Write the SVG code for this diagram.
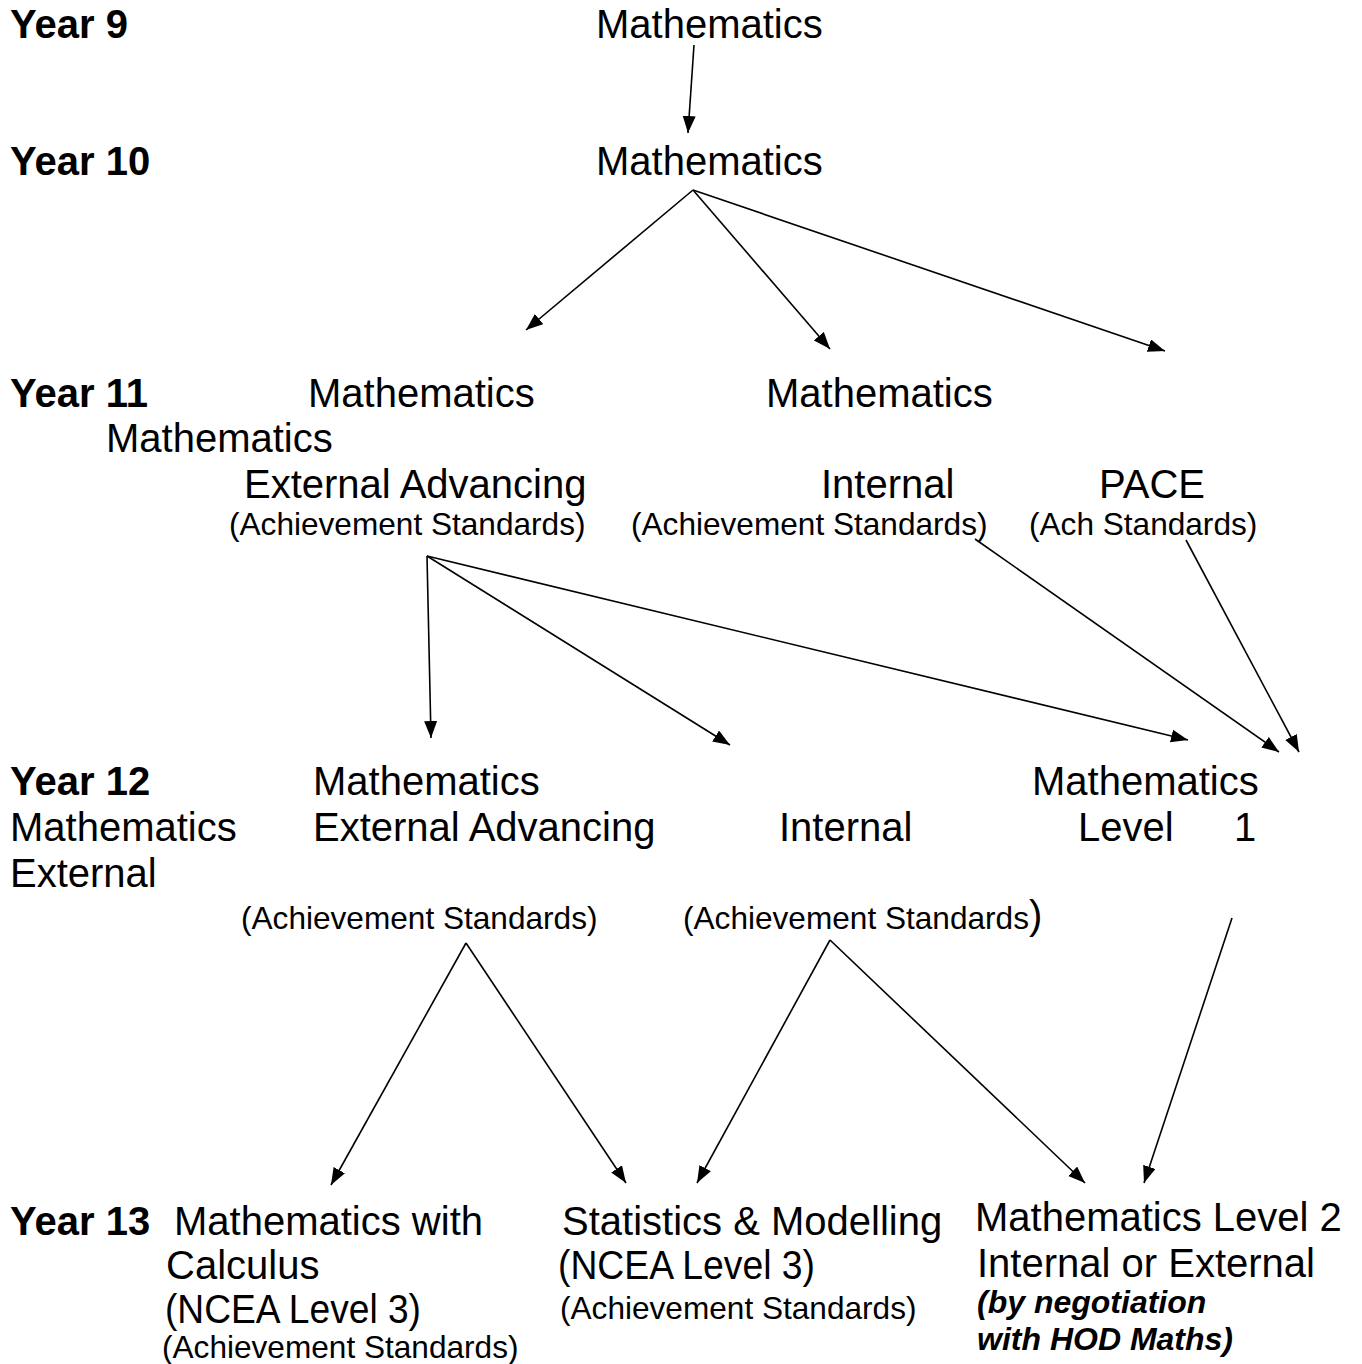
<svg xmlns="http://www.w3.org/2000/svg" width="1362" height="1364" viewBox="0 0 1362 1364">
<defs>
<style>
text{font-family:"Liberation Sans",Arial,sans-serif;fill:#000}
.big{font-size:40px}
.yr{font-size:40px;font-weight:bold}
.sm{font-size:31.6px}
.bi{font-size:32px;font-weight:bold;font-style:italic}
.cn line{stroke:#000;stroke-width:1.6;marker-end:url(#ah)}
</style>
<marker id="ah" markerUnits="userSpaceOnUse" markerWidth="18" markerHeight="14" refX="17" refY="6.5" orient="auto" viewBox="0 0 18 14">
<path d="M0,0 L17,6.5 L0,13 z" fill="#000"/>
</marker>
</defs>
<rect width="1362" height="1364" fill="#fff"/>
<g id="year-labels">
<text class="yr" x="10" y="38">Year 9</text>
<text class="yr" x="10" y="175">Year 10</text>
<text class="yr" x="10" y="407">Year 11</text>
<text class="yr" x="10" y="795">Year 12</text>
<text class="yr" x="10" y="1235">Year 13</text>
</g>
<g id="y9-math"><text class="big" x="596" y="38">Mathematics</text></g>
<g id="y10-math"><text class="big" x="596" y="175">Mathematics</text></g>
<g id="y11-ext">
<text class="big" x="308" y="407">Mathematics</text>
<text class="big" x="244" y="498">External Advancing</text>
<text class="sm" x="229" y="535">(Achievement Standards)</text>
</g>
<g id="y11-mathline2"><text class="big" x="106" y="452">Mathematics</text></g>
<g id="y11-int">
<text class="big" x="766" y="407">Mathematics</text>
<text class="big" x="821" y="498">Internal</text>
<text class="sm" x="631" y="535">(Achievement Standards)</text>
</g>
<g id="y11-pace">
<text class="big" x="1099" y="498">PACE</text>
<text class="sm" x="1029" y="535">(Ach Standards)</text>
</g>
<g id="y12-ext">
<text class="big" x="10" y="841">Mathematics</text>
<text class="big" x="10" y="887">External</text>
</g>
<g id="y12-extadv">
<text class="big" x="313" y="795">Mathematics</text>
<text class="big" x="313" y="841">External Advancing</text>
<text class="sm" x="241" y="929">(Achievement Standards)</text>
</g>
<g id="y12-int">
<text class="big" x="779" y="841">Internal</text>
<text x="683" y="929"><tspan class="sm">(Achievement Standards</tspan><tspan class="big">)</tspan></text>
</g>
<g id="y12-l1">
<text class="big" x="1032" y="795">Mathematics</text>
<text class="big" x="1078" y="841">Level</text>
<text class="big" x="1234" y="841">1</text>
</g>
<g id="y13-calc">
<text class="big" x="174" y="1235">Mathematics with</text>
<text class="big" x="166" y="1279">Calculus</text>
<text class="big" x="165" y="1323" textLength="256" lengthAdjust="spacingAndGlyphs">(NCEA Level 3)</text>
<text class="sm" x="162" y="1358">(Achievement Standards)</text>
</g>
<g id="y13-stats">
<text class="big" x="562" y="1235">Statistics &amp; Modelling</text>
<text class="big" x="558" y="1279" textLength="257" lengthAdjust="spacingAndGlyphs">(NCEA Level 3)</text>
<text class="sm" x="560" y="1319">(Achievement Standards)</text>
</g>
<g id="y13-l2">
<text class="big" x="975" y="1231">Mathematics Level 2</text>
<text class="big" x="977" y="1277">Internal or External</text>
<text class="bi" x="977" y="1313">(by negotiation</text>
<text class="bi" x="977" y="1350">with HOD Maths)</text>
</g>
<g id="connectors" class="cn">
<line x1="694" y1="45" x2="688" y2="133"/>
<line x1="693" y1="190" x2="526" y2="330"/>
<line x1="693" y1="190" x2="830" y2="349"/>
<line x1="693" y1="190" x2="1165" y2="351"/>
<line x1="427" y1="556" x2="431" y2="738"/>
<line x1="427" y1="556" x2="730" y2="745"/>
<line x1="427" y1="556" x2="1188" y2="740"/>
<line x1="975" y1="539" x2="1279" y2="752"/>
<line x1="1186" y1="540" x2="1299" y2="752"/>
<line x1="466" y1="943" x2="331" y2="1185"/>
<line x1="466" y1="943" x2="626" y2="1183"/>
<line x1="830" y1="940" x2="697" y2="1183"/>
<line x1="830" y1="940" x2="1085" y2="1183"/>
<line x1="1232" y1="918" x2="1144" y2="1183"/>
</g>
</svg>
